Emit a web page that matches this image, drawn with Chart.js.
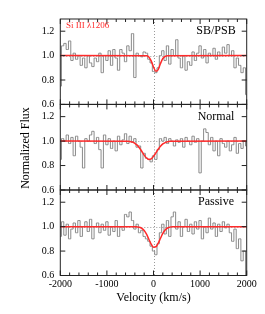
<!DOCTYPE html>
<html>
<head>
<meta charset="utf-8">
<script src="https://cdn.jsdelivr.net/npm/chart.js@4.4.1/dist/chart.umd.min.js"></script>
<style>
  body { margin: 0; background: #fff; }
  #wrap { position: relative; width: 265px; height: 314px; }
  canvas { position: absolute; left: 0; top: 0; }
</style>
</head>
<body>
<div id="wrap">
  <canvas id="p1" width="265" height="314"></canvas>
  <canvas id="p2" width="265" height="314"></canvas>
  <canvas id="p3" width="265" height="314"></canvas>
</div>
<script>
// velocity grid of the spectra (km/s)
const velocity = [-2000,-1950,-1900,-1850,-1800,-1750,-1700,-1650,-1600,-1550,-1500,-1450,-1400,-1350,-1300,-1250,-1200,-1150,-1100,-1050,
  -1000,-950,-900,-850,-800,-750,-700,-650,-600,-550,-500,-450,-400,-350,-300,-250,-200,-150,-100,-50,
  0,50,100,150,200,250,300,350,400,450,500,550,600,650,700,750,800,850,900,950,
  1000,1050,1100,1150,1200,1250,1300,1350,1400,1450,1500,1550,1600,1650,1700,1750,1800,1850,1900,1950,2000];

// normalized flux
const fluxSB = [0.75,1.08,1.10,1.05,1.12,0.96,1.02,0.97,1.00,0.92,0.98,0.90,1.00,0.94,0.91,0.98,0.95,1.02,0.86,1.00,
  0.96,1.04,0.92,1.05,0.98,0.88,1.05,1.02,0.95,1.08,1.04,1.18,0.82,1.02,1.00,0.99,1.03,1.02,0.97,0.94,
  0.87,0.86,0.90,1.00,1.04,0.96,1.08,0.93,1.05,1.00,1.13,0.98,0.90,1.00,0.88,0.95,0.92,1.03,0.96,1.02,
  1.08,0.98,1.05,0.94,1.02,1.00,1.06,0.97,1.03,1.00,1.07,1.02,1.09,1.00,1.04,0.90,0.98,0.92,0.86,0.90,0.68];

const fluxNormal = [0.85,1.02,1.00,1.05,0.98,1.03,0.88,1.04,1.00,0.95,0.78,1.02,1.00,1.05,1.08,0.98,1.03,0.93,0.78,1.05,
  0.97,1.02,0.94,1.00,0.92,1.04,0.97,1.01,1.06,0.98,1.04,0.99,1.02,0.95,0.96,0.78,0.90,0.86,0.85,0.83,
  0.88,0.85,0.93,1.02,1.00,1.03,0.98,1.02,1.00,0.96,1.01,0.99,1.02,0.95,1.03,1.00,0.97,1.04,0.99,1.02,
  0.74,1.00,1.10,1.07,0.97,1.03,0.92,1.00,0.88,1.02,0.98,0.95,1.00,0.92,0.97,1.03,0.90,0.98,0.94,1.00,0.96];

const fluxPassive = [0.92,1.04,0.93,1.02,0.90,0.98,1.03,0.95,1.05,0.92,1.00,1.04,0.96,1.06,0.90,1.00,1.03,0.95,1.02,0.97,
  1.04,0.93,1.00,0.96,1.05,0.92,1.00,0.97,1.10,1.08,1.12,1.05,0.98,1.02,0.95,0.97,0.92,0.90,0.88,0.84,
  0.80,0.77,0.86,0.95,1.02,0.94,1.05,0.92,1.08,1.12,0.98,1.04,0.92,1.00,1.06,0.96,1.02,0.94,1.04,0.98,
  1.05,0.90,1.00,0.95,1.07,0.98,1.03,0.92,1.02,0.96,1.04,0.99,1.02,0.95,0.88,0.98,0.82,0.90,0.72,0.80,0.60];

// red absorption model curves
const modelVelSB = [-2000,-150,-100,-50,0,50,100,150,200,250,300,2000];
const modelSB = [1.0,0.998,0.988,0.957,0.907,0.872,0.885,0.935,0.976,0.994,0.999,1.0];

const modelVelNormal = [-2000,-550,-500,-450,-400,-350,-300,-250,-200,-150,-100,-50,0,50,100,150,200,250,300,350,2000];
const modelNormal = [1.0,0.999,0.996,0.992,0.982,0.967,0.944,0.915,0.885,0.862,0.850,0.855,0.875,0.903,0.933,0.958,0.977,0.988,0.995,0.998,1.0];

const modelVelPassive = [-2000,-400,-350,-300,-250,-200,-150,-100,-50,0,50,100,150,200,250,300,350,400,2000];
const modelPassive = [1.0,1.0,0.998,0.995,0.986,0.968,0.938,0.897,0.857,0.832,0.835,0.864,0.905,0.945,0.973,0.989,0.996,0.999,1.0];

const xTicks = [-2000, -1000, 0, 1000, 2000];
const xMinor = [-1800,-1600,-1400,-1200,-800,-600,-400,-200,200,400,600,800,1200,1400,1600,1800];
const yTicks = [0.6, 0.8, 1.0, 1.2];

const SERIF = '"Liberation Serif", "DejaVu Serif", serif';

function toXY(xs, ys) {
  return xs.map((x, i) => ({ x: x, y: ys[i] }));
}

function framePlugin(label, extra) {
  return {
    id: 'frame',
    beforeDatasetsDraw(chart) {
      const { ctx, chartArea: a, scales } = chart;
      const x0 = scales.x.getPixelForValue(0);
      const y1 = scales.y.getPixelForValue(1.0);
      ctx.save();
      ctx.strokeStyle = '#9a9a9a';
      ctx.lineWidth = 1;
      ctx.setLineDash([1, 2]);
      ctx.beginPath();
      ctx.moveTo(Math.round(x0) + 0.5, a.top);
      ctx.lineTo(Math.round(x0) + 0.5, a.bottom);
      ctx.moveTo(a.left, Math.round(y1) + 0.5);
      ctx.lineTo(a.right, Math.round(y1) + 0.5);
      ctx.stroke();
      ctx.restore();
    },
    afterDatasetsDraw(chart) {
      const { ctx, chartArea: a, scales } = chart;
      ctx.save();
      ctx.strokeStyle = '#222';
      ctx.lineWidth = 1;
      ctx.strokeRect(a.left, a.top, a.right - a.left, a.bottom - a.top);
      ctx.beginPath();
      xTicks.forEach(v => {
        const px = scales.x.getPixelForValue(v);
        ctx.moveTo(px, a.top); ctx.lineTo(px, a.top + 5);
        ctx.moveTo(px, a.bottom); ctx.lineTo(px, a.bottom - 5);
      });
      xMinor.forEach(v => {
        const px = scales.x.getPixelForValue(v);
        ctx.moveTo(px, a.top); ctx.lineTo(px, a.top + 3);
        ctx.moveTo(px, a.bottom); ctx.lineTo(px, a.bottom - 3);
      });
      yTicks.forEach(v => {
        const py = scales.y.getPixelForValue(v);
        ctx.moveTo(a.left, py); ctx.lineTo(a.left + 5, py);
        ctx.moveTo(a.right, py); ctx.lineTo(a.right - 5, py);
      });
      ctx.stroke();

      ctx.fillStyle = '#000';
      ctx.font = '12px ' + SERIF;
      ctx.textAlign = 'center';
      ctx.textBaseline = 'middle';
      ctx.fillText(label, 216, scales.y.getPixelForValue(1.2));
      ctx.restore();
      if (extra) extra(chart);
    }
  };
}

function makePanel(id, flux, modelVel, model, label, top, bottom, showX, extra) {
  return new Chart(document.getElementById(id), {
    type: 'line',
    data: {
      datasets: [
        {
          data: toXY(velocity, flux),
          borderColor: '#8a8a8a',
          borderWidth: 1,
          pointRadius: 0,
          stepped: 'middle',
          order: 2
        },
        {
          data: toXY(modelVel, model),
          borderColor: '#ff2a2a',
          borderWidth: 1.5,
          pointRadius: 0,
          cubicInterpolationMode: 'monotone',
          order: 1
        }
      ]
    },
    options: {
      responsive: false,
      animation: false,
      devicePixelRatio: 1,
      layout: { padding: { top: top, bottom: showX ? 0 : 314 - bottom, left: 0, right: 18.3 } },
      plugins: { legend: { display: false }, tooltip: { enabled: false } },
      scales: {
        x: {
          type: 'linear',
          min: -2000,
          max: 2000,
          display: showX,
          afterFit: s => { s.height = showX ? 314 - bottom : 0; },
          afterBuildTicks: s => { s.ticks = xTicks.map(v => ({ value: v })); },
          grid: { display: false, drawTicks: false },
          border: { display: false },
          ticks: {
            padding: 3,
            color: '#000',
            font: { family: SERIF, size: 10 },
            maxRotation: 0,
            callback: v => String(v)
          }
        },
        y: {
          min: 0.6,
          max: 1.3,
          afterFit: s => { s.width = 60.3; },
          afterBuildTicks: s => { s.ticks = yTicks.map(v => ({ value: v })); },
          grid: { display: false, drawTicks: false },
          border: { display: false },
          ticks: {
            padding: 6,
            color: '#000',
            font: { family: SERIF, size: 10 },
            callback: v => v.toFixed(1)
          }
        }
      }
    },
    plugins: [framePlugin(label, extra)]
  });
}

makePanel('p1', fluxSB, modelVelSB, modelSB, 'SB/PSB', 19, 104.4, false, chart => {
  const ctx = chart.ctx;
  ctx.save();
  ctx.fillStyle = '#ff2a2a';
  ctx.font = '9px ' + SERIF;
  ctx.textAlign = 'left';
  ctx.textBaseline = 'middle';
  ctx.fillText('Si III \u03BB1206', 66, 25.5);
  ctx.restore();
});

makePanel('p2', fluxNormal, modelVelNormal, modelNormal, 'Normal', 104.4, 190, false);

makePanel('p3', fluxPassive, modelVelPassive, modelPassive, 'Passive', 190, 275.5, true, chart => {
  const ctx = chart.ctx;
  ctx.save();
  ctx.fillStyle = '#000';
  ctx.font = '12px ' + SERIF;
  ctx.textAlign = 'center';
  ctx.textBaseline = 'middle';
  ctx.fillText('Velocity (km/s)', 153.5, 297.5);
  ctx.translate(26, 148);
  ctx.rotate(-Math.PI / 2);
  ctx.fillText('Normalized Flux', 0, 0);
  ctx.restore();
});
</script>
</body>
</html>
